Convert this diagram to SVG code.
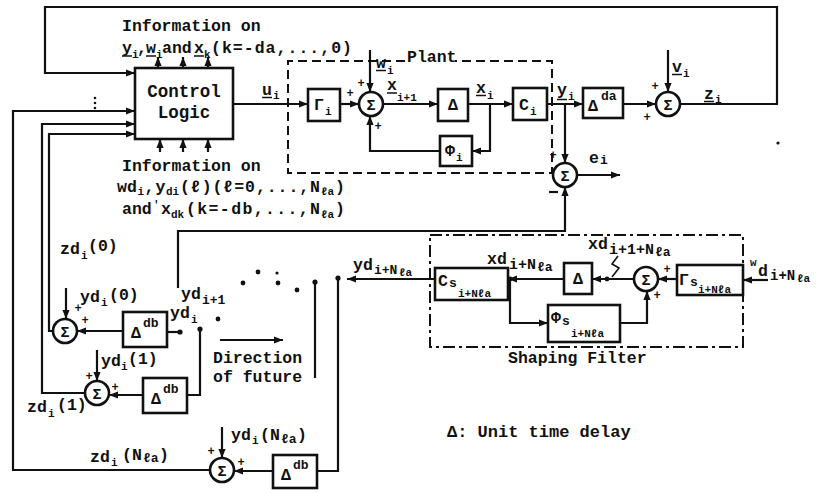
<svg xmlns="http://www.w3.org/2000/svg" width="819" height="493" viewBox="0 0 819 493">
<defs>
<marker id="a" viewBox="0 0 10 8" refX="10" refY="4" markerWidth="9" markerHeight="7.2" markerUnits="userSpaceOnUse" orient="auto"><path d="M0,0L10,4L0,8z" fill="#111"/></marker>
</defs>
<style>
.ln{fill:none;stroke:#111;stroke-width:2.2}
.bx{fill:#fff;stroke:#111;stroke-width:2.6}
.cc{fill:#fff;stroke:#111;stroke-width:2.6}
.ds{fill:none;stroke:#111;stroke-width:2;stroke-dasharray:9 5}
.dd{fill:none;stroke:#111;stroke-width:2;stroke-dasharray:12 4 3 4}
.ul{stroke:#111;stroke-width:1.5}
.dot{fill:#111}
text{font-family:"Liberation Mono","DejaVu Sans Mono",monospace;font-weight:bold;fill:#111}
.t{font-size:16.5px}
.m{font-size:13px}
.s{font-size:11px}
.cl{font-size:17.5px}
.sg{font-size:15px;text-anchor:middle}
.pm{font-size:12px;text-anchor:middle}
</style>
<rect width="819" height="493" fill="#fff"/>

<!-- dashed enclosures -->
<path class="ds" d="M405,61H288V173H552V61H455"/>
<path class="dd" d="M430,235H743V347H430Z"/>

<g id="connectors" class="ln">
<path d="M680,104H777V7H45V73H135" marker-end="url(#a)"/>
<path d="M210,470H13V111H135" marker-end="url(#a)"/>
<path d="M85,393H42V124H135" marker-end="url(#a)"/>
<path d="M53,331H49V134H135" marker-end="url(#a)"/>
<path d="M158,68V57" marker-end="url(#a)"/>
<path d="M183,68V57" marker-end="url(#a)"/>
<path d="M208,68V57" marker-end="url(#a)"/>
<path d="M160,152V139" marker-end="url(#a)"/>
<path d="M183,152V139" marker-end="url(#a)"/>
<path d="M208,152V139" marker-end="url(#a)"/>
<path d="M233,104H308" marker-end="url(#a)"/>
<path d="M340,104H359" marker-end="url(#a)"/>
<path d="M370,50V92" marker-end="url(#a)"/>
<path d="M383,104H438" marker-end="url(#a)"/>
<path d="M468,104H513" marker-end="url(#a)"/>
<path d="M490,104V151H472" marker-end="url(#a)"/>
<path d="M440,151H370V116" marker-end="url(#a)"/>
<path d="M547,104H583" marker-end="url(#a)"/>
<path d="M623,104H656" marker-end="url(#a)"/>
<path d="M668,50V92" marker-end="url(#a)"/>
<path d="M565,104V163" marker-end="url(#a)"/>
<path d="M577,175H620" marker-end="url(#a)"/>
<path d="M178,288V231H565V187" marker-end="url(#a)"/>
<path d="M768,280H743" marker-end="url(#a)"/>
<path d="M677,279H658" marker-end="url(#a)"/>
<path d="M634,279H592" marker-end="url(#a)"/>
<path d="M564,279H508" marker-end="url(#a)"/>
<path d="M435,279H347" marker-end="url(#a)"/>
<path d="M510,279V323H548" marker-end="url(#a)"/>
<path d="M620,323H647V291" marker-end="url(#a)"/>
<path d="M66,288V319" marker-end="url(#a)"/>
<path d="M123,331H77" marker-end="url(#a)"/>
<path d="M167,332H180"/>
<path d="M97,350V381" marker-end="url(#a)"/>
<path d="M143,395H109" marker-end="url(#a)"/>
<path d="M187,395H200V329"/>
<path d="M222,427V458" marker-end="url(#a)"/>
<path d="M273,471H234" marker-end="url(#a)"/>
<path d="M317,471H338V278"/>
<path d="M315,282V378"/>
<path d="M220,340H283" marker-end="url(#a)"/>
<path d="M618,256L612,264L619,268L612,277" style="stroke-width:1.6"/>
</g>

<g id="control-logic">
<rect class="bx" x="135" y="68" width="98" height="71"/>
<text class="cl" x="184" y="97" text-anchor="middle">Control</text>
<text class="cl" x="184" y="118" text-anchor="middle">Logic</text>
</g>
<g id="gamma-i"><rect class="bx" x="308" y="89" width="32" height="32"/><text class="t" x="314" y="110">Γ</text><text class="s" x="325" y="115">i</text></g>
<g id="sum1"><circle class="cc" cx="371" cy="104" r="12"/><text class="sg" x="371" y="109.5">Σ</text></g>
<g id="delay1"><rect class="bx" x="438" y="89" width="30" height="32"/><text class="t" x="453" y="110" text-anchor="middle">Δ</text></g>
<g id="phi-i"><rect class="bx" x="440" y="136" width="32" height="30"/><text class="t" x="445" y="156">Φ</text><text class="s" x="456" y="161">i</text></g>
<g id="c-i"><rect class="bx" x="513" y="88" width="34" height="32"/><text class="t" x="519" y="110">C</text><text class="s" x="530" y="115">i</text></g>
<g id="delay-da"><rect class="bx" x="583" y="88" width="40" height="30"/><text class="t" x="588" y="111">Δ</text><text class="m" x="601" y="100">da</text></g>
<g id="sum2"><circle class="cc" cx="668" cy="104" r="12"/><text class="sg" x="668" y="109.5">Σ</text></g>
<g id="sum3"><circle class="cc" cx="565" cy="175" r="12"/><text class="sg" x="565" y="180.5">Σ</text></g>

<g id="cs"><rect class="bx" x="435" y="268" width="73" height="32"/><text class="t" x="438" y="286">C</text><text class="m" x="449" y="287">s</text><text class="s" x="458" y="297">i+Nℓa</text></g>
<g id="delay-s"><rect class="bx" x="564" y="263" width="28" height="31"/><text class="t" x="578" y="284" text-anchor="middle">Δ</text></g>
<g id="sum4"><circle class="cc" cx="646" cy="279" r="12"/><text class="sg" x="646" y="284.5">Σ</text></g>
<g id="gamma-s"><rect class="bx" x="677" y="265" width="66" height="30"/><text class="t" x="679" y="285">Γ</text><text class="m" x="690" y="286">s</text><text class="s" x="698" y="293">i+Nℓa</text></g>
<g id="phi-s"><rect class="bx" x="548" y="305" width="72" height="37"/><text class="t" x="551" y="323">Φ</text><text class="m" x="562" y="325">s</text><text class="s" x="571" y="337">i+Nℓa</text></g>

<g id="sum-r0"><circle class="cc" cx="65" cy="331" r="12"/><text class="sg" x="65" y="336.5">Σ</text></g>
<g id="delay-r0"><rect class="bx" x="123" y="312" width="44" height="35"/><text class="t" x="131" y="338">Δ</text><text class="m" x="143" y="327">db</text></g>
<g id="sum-r1"><circle class="cc" cx="97" cy="393" r="12"/><text class="sg" x="97" y="398.5">Σ</text></g>
<g id="delay-r1"><rect class="bx" x="143" y="378" width="44" height="35"/><text class="t" x="151" y="404">Δ</text><text class="m" x="163" y="393">db</text></g>
<g id="sum-rN"><circle class="cc" cx="222" cy="470" r="12"/><text class="sg" x="222" y="475.5">Σ</text></g>
<g id="delay-rN"><rect class="bx" x="273" y="455" width="44" height="33"/><text class="t" x="281" y="480">Δ</text><text class="m" x="293" y="469">db</text></g>

<g id="switch-dots" class="dot">
<circle cx="180" cy="332" r="2.6"/><circle cx="200" cy="329" r="2.6"/><circle cx="218" cy="319" r="2.4"/>
<circle cx="243" cy="283" r="2.4"/><circle cx="258" cy="272" r="2.4"/><circle cx="277" cy="273" r="1.6"/>
<circle cx="278" cy="283" r="2.4"/><circle cx="297" cy="290" r="2.4"/><circle cx="315" cy="282" r="2.6"/>
<circle cx="338" cy="278" r="2.6"/>
<circle cx="510" cy="279" r="2.4"/><circle cx="607" cy="279" r="2.4"/>
<circle cx="95" cy="98" r="1.3"/><circle cx="95" cy="103" r="1.3"/><circle cx="95" cy="108" r="1.3"/>
<circle cx="778" cy="143" r="1.6"/>
</g>

<g id="signs">
<text class="pm" x="350" y="97">+</text><text class="pm" x="361" y="87">+</text><text class="pm" x="378" y="130">+</text>
<text class="pm" x="655" y="90">+</text><text class="pm" x="647" y="121">+</text>
<text class="pm" x="553" y="159">+</text>
<line class="ul" x1="549" y1="192" x2="558" y2="192" style="stroke-width:2.2"/>
<text class="pm" x="667" y="273">+</text><text class="pm" x="657" y="299">+</text>
<text class="pm" x="78" y="312">+</text><text class="pm" x="85" y="324">+</text>
<text class="pm" x="89" y="380">+</text><text class="pm" x="115" y="391">+</text>
<text class="pm" x="211" y="455">+</text><text class="pm" x="241" y="466">+</text>
</g>

<g id="labels">
<text class="t" x="122" y="31">Information on</text>
<text class="t" x="122" y="53">y</text><text class="s" x="132" y="58">i</text><text class="t" x="137" y="53">,</text>
<text class="t" x="146" y="53">w</text><text class="s" x="156" y="58">i</text><text class="t" x="162" y="53">and</text>
<text class="t" x="194" y="53">x</text><text class="s" x="204" y="58">k</text>
<text class="t" x="211" y="53" textLength="141" lengthAdjust="spacing">(k=-da,...,0)</text>
<line class="ul" x1="122" y1="56" x2="132" y2="56"/><line class="ul" x1="146" y1="56" x2="156" y2="56"/><line class="ul" x1="194" y1="56" x2="204" y2="56"/>

<text class="t" x="262" y="95">u</text><text class="s" x="273" y="99">i</text><line class="ul" x1="262" y1="97.5" x2="272" y2="97.5"/>
<text class="t" x="407" y="62">Plant</text>
<text class="t" x="376" y="68">w</text><text class="s" x="387" y="74">i</text><line class="ul" x1="376" y1="70.5" x2="386" y2="70.5"/>
<text class="t" x="387" y="90">x</text><text class="s" x="397" y="101">i+1</text><line class="ul" x1="387" y1="93" x2="397" y2="93"/>
<text class="t" x="476" y="93">x</text><text class="s" x="487" y="99">i</text><line class="ul" x1="476" y1="95.5" x2="486" y2="95.5"/>
<text class="t" x="557" y="95">y</text><text class="s" x="568" y="100">i</text><line class="ul" x1="557" y1="99.5" x2="567" y2="99.5"/>
<text class="t" x="672" y="72">v</text><text class="s" x="683" y="77">i</text><line class="ul" x1="672" y1="74.5" x2="682" y2="74.5"/>
<text class="t" x="704" y="99">z</text><text class="s" x="715" y="103">i</text><line class="ul" x1="704" y1="101.5" x2="714" y2="101.5"/>
<text class="t" x="589" y="163">e</text><text class="m" x="600" y="164">i</text>

<text class="t" x="122" y="171">Information on</text>
<text class="t" x="117" y="192">wd</text><text class="s" x="137.5" y="195">i</text><text class="t" x="144.5" y="192">,</text>
<text class="t" x="155.5" y="192">y</text><text class="s" x="166" y="195">di</text>
<text class="t" x="180" y="192" textLength="140" lengthAdjust="spacing">(ℓ)(ℓ=0,...,N</text><text class="s" x="321" y="195">ℓa</text><text class="t" x="335" y="192">)</text>
<text class="t" x="122" y="214">and</text><text class="s" x="153" y="208">'</text>
<text class="t" x="161" y="214">x</text><text class="s" x="171" y="218">dk</text>
<text class="t" x="186" y="214" textLength="134" lengthAdjust="spacing">(k=-db,...,N</text><text class="s" x="321" y="218">ℓa</text><text class="t" x="335" y="214">)</text>

<text class="t" x="60" y="254">zd</text><text class="s" x="81" y="259">i</text><text class="t" x="88" y="251">(0)</text>
<text class="t" x="80" y="302">yd</text><text class="s" x="101" y="306">i</text><text class="t" x="109" y="300">(0)</text>
<text class="t" x="170" y="318">yd</text><text class="s" x="191" y="323">i</text>
<text class="t" x="181" y="299">yd</text><text class="m" x="202" y="304">i+1</text>
<text class="t" x="213" y="363">Direction</text>
<text class="t" x="213" y="382">of future</text>
<text class="t" x="101" y="366">yd</text><text class="s" x="121" y="370">i</text><text class="t" x="128" y="364">(1)</text>
<text class="t" x="27" y="412">zd</text><text class="s" x="48" y="417">i</text><text class="t" x="57" y="410">(1)</text>
<text class="t" x="231" y="440">yd</text><text class="s" x="252" y="444">i</text><text class="t" x="260" y="440">(N</text><text class="m" x="281" y="443">ℓa</text><text class="t" x="297" y="440">)</text>
<text class="t" x="90" y="462">zd</text><text class="s" x="111" y="466">i</text><text class="t" x="122" y="460">(N</text><text class="m" x="143" y="462">ℓa</text><text class="t" x="159" y="460">)</text>

<text class="t" x="353" y="270">yd</text><text class="m" x="374" y="274">i+N</text><text class="s" x="399" y="276">ℓa</text>
<text class="t" x="487" y="264">xd</text><text style="font-size:15px" x="509" y="269">i+N</text><text class="m" x="537" y="271">ℓa</text>
<text class="t" x="588" y="249">xd</text><text style="font-size:15px" x="609" y="254">i+1+N</text><text class="m" x="655" y="256">ℓa</text>
<text class="s" x="750" y="266">w</text><text class="t" x="758" y="276">d</text><text style="font-size:14px" x="770" y="280">i+N</text><text class="s" x="797" y="282">ℓa</text>

<text class="t" x="508" y="363">Shaping Filter</text>
<text style="font-size:17px" x="447" y="437">Δ: Unit time delay</text>
</g>
</svg>
